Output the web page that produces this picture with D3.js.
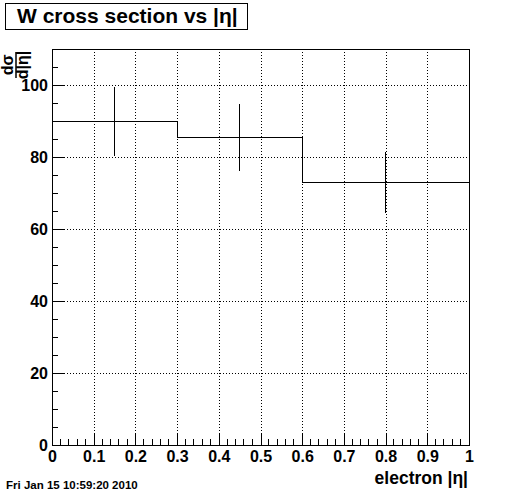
<!DOCTYPE html>
<html>
<head>
<meta charset="utf-8">
<script src="https://cdn.jsdelivr.net/npm/d3@7"></script>
<style>
  body { margin: 0; background: #fff; }
  svg { display: block; font-family: "Liberation Sans", Arial, sans-serif; font-weight: bold; }
  .tick text { font-size: 16px; font-weight: bold; fill: #000; }
  .grid line { stroke: #000; stroke-dasharray: 1,2; }
</style>
</head>
<body>
<svg id="chart"></svg>
<script>
// bin edges of the histogram
const binEdges = [0, 0.3, 0.6, 1.0]
// cross section per bin and its error
const binValues = [89.9, 85.5, 73.0]
const binErrors = [9.6, 9.25, 8.5]

const xTicks = [0, 0.1, 0.2, 0.3, 0.4, 0.5, 0.6, 0.7, 0.8, 0.9, 1]
const xTickLabels = ["0", "0.1", "0.2", "0.3", "0.4", "0.5", "0.6", "0.7", "0.8", "0.9", "1"]
const yTicks = [0, 20, 40, 60, 80, 100]
const yTickLabels = ["0", "20", "40", "60", "80", "100"]

const width = 522, height = 495
const frame = { left: 52, right: 469, top: 49, bottom: 445 }

const svg = d3.select("#chart").attr("width", width).attr("height", height)

const x = d3.scaleLinear().domain([0, 1]).range([frame.left, frame.right])
const y = d3.scaleLinear().domain([0, 110]).range([frame.bottom, frame.top])

const xMinor = d3.range(0, 1.0001, 0.02).filter(v => Math.abs(Math.round(v * 10) - v * 10) > 1e-6)
const yMinor = d3.range(0, 110.0001, 5).filter(v => v % 20 !== 0)

// dotted grid at major ticks
const grid = svg.append("g").attr("class", "grid").attr("shape-rendering", "crispEdges")
grid.selectAll(".gx").data(xTicks.slice(1, -1)).enter().append("line")
  .attr("x1", d => Math.round(x(d)) + 0.5).attr("x2", d => Math.round(x(d)) + 0.5)
  .attr("y1", frame.top).attr("y2", frame.bottom)
grid.selectAll(".gy").data(yTicks.slice(1)).enter().append("line")
  .attr("x1", frame.left).attr("x2", frame.right)
  .attr("y1", d => Math.round(y(d)) + 0.5).attr("y2", d => Math.round(y(d)) + 0.5)

// axes, ticks pointing inward
const xAxis = svg.append("g").attr("transform", `translate(0,${frame.bottom})`)
  .call(d3.axisBottom(x).tickValues(xTicks).tickSizeInner(-12).tickSizeOuter(0).tickPadding(6)
    .tickFormat((d, i) => xTickLabels[i]))
xAxis.select(".domain").remove()
xAxis.append("g").selectAll("line").data(xMinor).enter().append("line")
  .attr("x1", d => x(d)).attr("x2", d => x(d)).attr("y1", 0).attr("y2", -6)
  .attr("stroke", "#000")

const yAxis = svg.append("g").attr("transform", `translate(${frame.left},0)`)
  .call(d3.axisLeft(y).tickValues(yTicks).tickSizeInner(-12).tickSizeOuter(0).tickPadding(4)
    .tickFormat((d, i) => yTickLabels[i]))
yAxis.select(".domain").remove()
yAxis.append("g").selectAll("line").data(yMinor).enter().append("line")
  .attr("x1", 0).attr("x2", 6).attr("y1", d => y(d)).attr("y2", d => y(d))
  .attr("stroke", "#000")
svg.selectAll(".tick line").attr("stroke", "#000")
svg.selectAll("g").attr("shape-rendering", "crispEdges")

// frame
svg.append("rect")
  .attr("x", frame.left + 0.5).attr("y", frame.top + 0.5)
  .attr("width", frame.right - frame.left).attr("height", frame.bottom - frame.top)
  .attr("fill", "none").attr("stroke", "#000").attr("shape-rendering", "crispEdges")

// histogram step line
const steps = []
binValues.forEach((v, i) => {
  steps.push([binEdges[i], v])
  steps.push([binEdges[i + 1], v])
})
svg.append("path")
  .attr("d", d3.line().x(d => x(d[0])).y(d => y(d[1]))(steps))
  .attr("fill", "none").attr("stroke", "#000").attr("stroke-width", 1)
  .attr("shape-rendering", "crispEdges")

// error bars at bin centres
svg.append("g").selectAll("line").data(binValues).enter().append("line")
  .attr("x1", (d, i) => x((binEdges[i] + binEdges[i + 1]) / 2))
  .attr("x2", (d, i) => x((binEdges[i] + binEdges[i + 1]) / 2))
  .attr("y1", (d, i) => y(d + binErrors[i]))
  .attr("y2", (d, i) => y(d - binErrors[i]))
  .attr("stroke", "#000").attr("shape-rendering", "crispEdges")

// title box
svg.append("rect").attr("x", 5.5).attr("y", 3.5).attr("width", 242).attr("height", 26)
  .attr("fill", "#fff").attr("stroke", "#000").attr("shape-rendering", "crispEdges")
svg.append("text").attr("x", 17).attr("y", 22.5).attr("font-size", 21)
  .text("W cross section vs |η|")

// y axis title as rotated fraction
const yt = svg.append("g").attr("transform", "translate(16,65) rotate(-90)")
yt.append("text").attr("x", 0).attr("y", -3).attr("text-anchor", "middle").attr("font-size", 16).text("dσ")
yt.append("line").attr("x1", -13).attr("x2", 13).attr("y1", 0).attr("y2", 0).attr("stroke", "#000").attr("stroke-width", 1.5)
yt.append("text").attr("x", 0).attr("y", 12).attr("text-anchor", "middle").attr("font-size", 16).text("d|η|")

// x axis title
svg.append("text").attr("x", 468).attr("y", 484).attr("text-anchor", "end").attr("font-size", 17.5)
  .text("electron |η|")

// date stamp
svg.append("text").attr("x", 6).attr("y", 489).attr("font-size", 11.5)
  .text("Fri Jan 15 10:59:20 2010")
</script>
</body>
</html>
